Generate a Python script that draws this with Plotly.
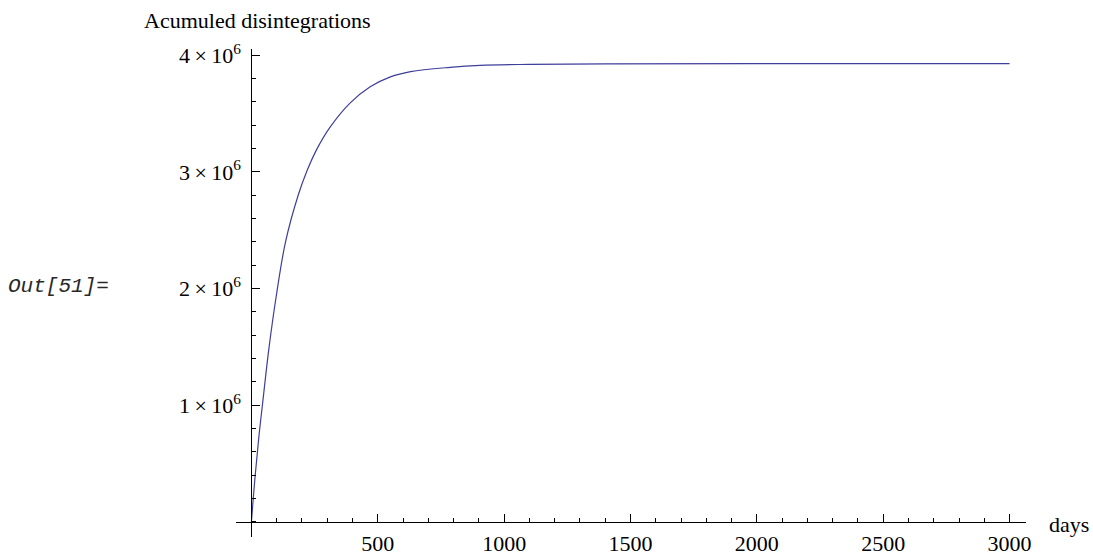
import plotly.graph_objects as go

# Cumulative disintegrations over time (days -> count)
days = [0, 15, 30, 45, 70, 100, 135, 185, 220, 260, 310, 390, 470, 550, 630,
        786, 905, 1100, 1400, 2000, 3000]
counts_millions = [0, 0.40, 0.74, 1.03, 1.50, 1.96, 2.40, 2.80, 3.01, 3.20, 3.38,
                   3.59, 3.73, 3.815, 3.86, 3.897, 3.914, 3.922, 3.926, 3.928, 3.928]
counts = [v * 1e6 for v in counts_millions]

x_tickvals = [500, 1000, 1500, 2000, 2500, 3000]
x_ticktext = ["500", "1000", "1500", "2000", "2500", "3000"]
y_tickvals = [1e6, 2e6, 3e6, 4e6]
y_ticktext = [f"{k}\u2009×\u200910<sup>6</sup>" for k in (1, 2, 3, 4)]

x_range = [-61, 3065]
y_range = [-0.13e6, 4.054e6]

W, H = 1093, 556
L, R, T, B = 236, 67, 49, 19
plot_w = W - L - R

# axes cross at the origin
yaxis_pos = (0 - x_range[0]) / (x_range[1] - x_range[0])
xaxis_pos = (0 - y_range[0]) / (y_range[1] - y_range[0])

serif = "Liberation Serif"
fs = 22

fig = go.Figure()
fig.add_trace(go.Scatter(
    x=days, y=counts, mode="lines",
    line=dict(color="rgb(62,62,155)", width=1.2, shape="spline", smoothing=1.0),
    hoverinfo="skip", showlegend=False,
))

fig.update_layout(
    width=W, height=H,
    margin=dict(l=L, r=R, t=T, b=B, autoexpand=False),
    paper_bgcolor="white", plot_bgcolor="white",
    font=dict(family=serif, size=fs, color="black"),
    xaxis=dict(
        range=x_range, anchor="free", position=xaxis_pos, automargin=False,
        showgrid=False, zeroline=False,
        showline=True, linecolor="black", linewidth=1,
        tickmode="array", tickvals=x_tickvals, ticktext=x_ticktext,
        ticks="inside", ticklen=8, tickwidth=1, tickcolor="black",
        ticklabelstandoff=2,
        minor=dict(dtick=100, tick0=0, ticks="inside", ticklen=4,
                   tickwidth=1, tickcolor="black", showgrid=False),
        tickfont=dict(family=serif, size=fs, color="black"),
    ),
    yaxis=dict(
        range=y_range, anchor="free", position=yaxis_pos, automargin=False,
        showgrid=False, zeroline=False,
        showline=True, linecolor="black", linewidth=1,
        tickmode="array", tickvals=y_tickvals, ticktext=y_ticktext,
        ticks="inside", ticklen=8, tickwidth=1, tickcolor="black",
        ticklabelstandoff=6,
        minor=dict(dtick=0.2e6, tick0=0, ticks="inside", ticklen=4,
                   tickwidth=1, tickcolor="black", showgrid=False),
        tickfont=dict(family=serif, size=fs, color="black"),
    ),
    annotations=[
        dict(text="Acumuled disintegrations", xref="paper", yref="paper",
             x=(142 - L) / plot_w, y=1, xanchor="left", yanchor="bottom", yshift=14,
             showarrow=False, font=dict(family=serif, size=fs, color="black")),
        dict(text="days", xref="paper", yref="paper",
             x=1, y=xaxis_pos, xanchor="left", yanchor="middle", xshift=21, yshift=-3,
             showarrow=False, font=dict(family=serif, size=fs, color="black")),
        dict(text="<i>Out[51]=</i>", xref="paper", yref="paper",
             x=-L / plot_w, y=0.5, xanchor="left", yanchor="middle",
             xshift=6, yshift=7,
             showarrow=False,
             font=dict(family="Liberation Mono", size=21, color="rgb(40,40,40)")),
    ],
)

fig.write_html("out.html")
